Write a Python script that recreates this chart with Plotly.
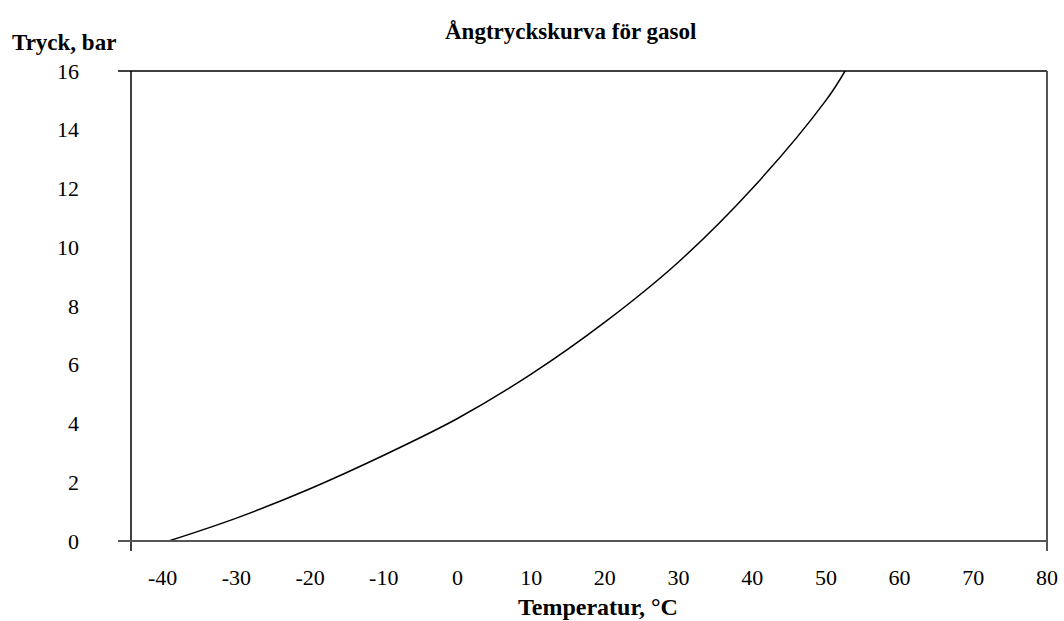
import plotly.graph_objects as go

# Data
temperature_c = [-39.2, -30, -20, -10, 0, 10, 20, 30, 40, 50, 52.6]
pressure_bar = [0.0, 0.78, 1.78, 2.92, 4.17, 5.68, 7.45, 9.5, 12.0, 15.0, 16.0]

x_ticks = [-40, -30, -20, -10, 0, 10, 20, 30, 40, 50, 60, 70, 80]
x_tick_text = ["-40", "-30", "-20", "-10", "0", "10", "20", "30", "40", "50", "60", "70", "80"]
y_ticks = [0, 2, 4, 6, 8, 10, 12, 14, 16]

title_text = "Ångtryckskurva för gasol"
x_title = "Temperatur, °C"
y_title = "Tryck, bar"

FONT = "Liberation Serif"

fig = go.Figure()
fig.add_trace(go.Scatter(
    x=temperature_c, y=pressure_bar, mode="lines",
    line=dict(color="black", width=1.5, shape="spline", smoothing=1.0),
    showlegend=False, hoverinfo="x+y",
))

W, H = 1064, 621
L, R, T, B = 131, 17, 71, 80
pw, ph = W - L - R, H - T - B

def px(xp):
    return (xp - L) / pw

def py(yp):
    return (H - B - yp) / ph

fig.update_layout(
    width=W, height=H, autosize=False,
    margin=dict(l=L, r=R, t=T, b=B, autoexpand=False),
    paper_bgcolor="white", plot_bgcolor="white",
    font=dict(family=FONT, size=22, color="black"),
    xaxis=dict(range=[-44.3, 80], tickvals=x_ticks, ticktext=x_tick_text,
               showgrid=False, zeroline=False, automargin=False,
               showline=False, ticks="", ticklabelstandoff=21,
               tickfont=dict(family=FONT, size=22)),
    yaxis=dict(range=[0, 16], tickvals=y_ticks, showgrid=False, zeroline=False,
               automargin=False,
               showline=False, ticks="", ticklabelstandoff=51,
               tickfont=dict(family=FONT, size=22)),
    shapes=[
        # left axis (extends below x-axis)
        dict(type="line", xref="paper", yref="paper", x0=0, x1=0, y0=py(551), y1=1,
             line=dict(color="black", width=1.5)),
        # top border (extends left)
        dict(type="line", xref="paper", yref="paper", x0=px(118), x1=1, y0=1, y1=1,
             line=dict(color="black", width=1.5)),
        # bottom axis (extends left)
        dict(type="line", xref="paper", yref="paper", x0=px(118), x1=1, y0=0, y1=0,
             line=dict(color="#555555", width=2)),
        # right border (extends below)
        dict(type="line", xref="paper", yref="paper", x0=1, x1=1, y0=py(551), y1=1,
             line=dict(color="#555555", width=2)),
    ],
    annotations=[
        dict(text="<b>" + title_text + "</b>", xref="paper", yref="paper",
             x=px(570), y=py(31), xanchor="center", yanchor="middle",
             showarrow=False, font=dict(family=FONT, size=23)),
        dict(text="<b>" + y_title + "</b>", xref="paper", yref="paper",
             x=px(10), y=py(42), xanchor="left", yanchor="middle",
             showarrow=False, font=dict(family=FONT, size=23)),
        dict(text="<b>" + x_title + "</b>", xref="paper", yref="paper",
             x=px(598), y=py(607), xanchor="center", yanchor="middle",
             showarrow=False, font=dict(family=FONT, size=24)),
    ],
)

fig.write_html("out.html", config={"displayModeBar": False, "responsive": False},
               post_script="document.body.style.margin='0';")
